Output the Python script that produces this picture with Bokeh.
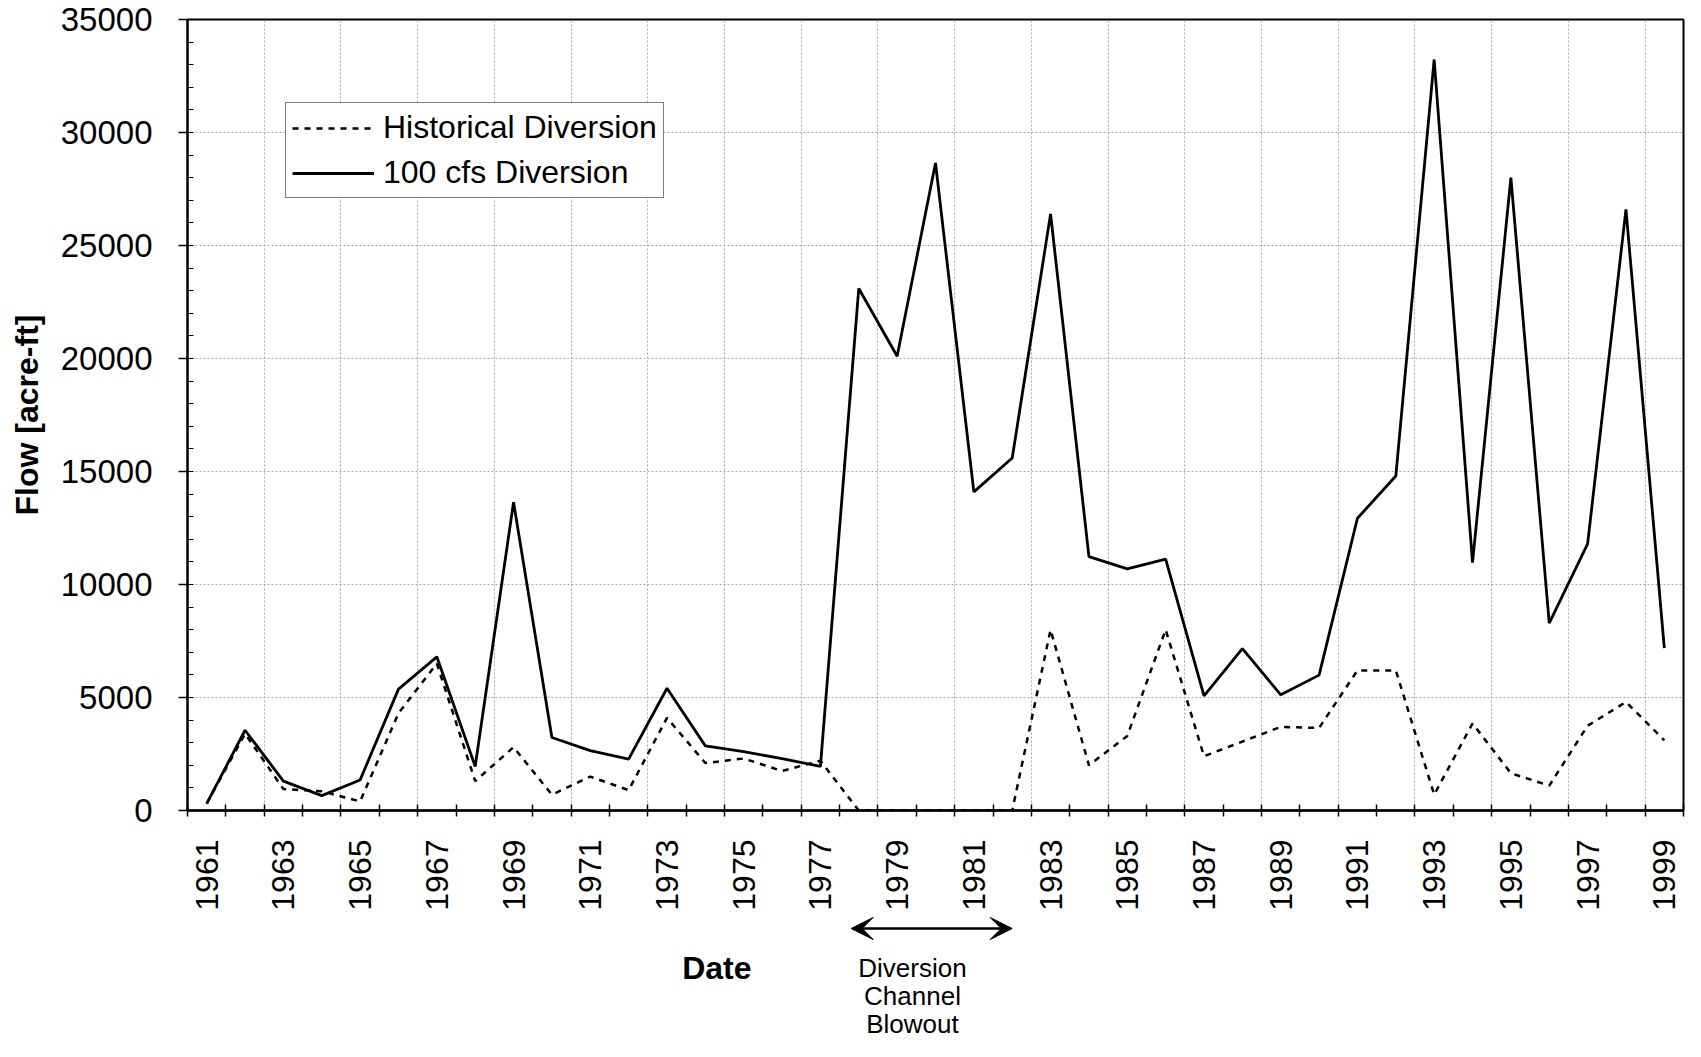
from bokeh.plotting import figure
from bokeh.layouts import column
from bokeh.models import (FixedTicker, Legend, LegendItem, Label,
                          Arrow, VeeHead, Range1d)
from bokeh.embed import file_html
from bokeh.resources import INLINE
from math import pi

# ---- data ----
years = list(range(1961, 2000))
historical = [300, 3400, 950, 850, 400, 4300, 6500, 1300, 2800, 700,
              1500, 900, 4100, 2100, 2300, 1750, 2200, 0, 0, 0,
              0, 0, 8000, 2000, 3300, 8000, 2400, 3050, 3700, 3650,
              6200, 6200, 700, 3850, 1650, 1100, 3750, 4800, 3100]
cfs100 = [300, 3550, 1300, 660, 1350, 5370, 6800, 1950, 13640, 3230,
          2650, 2270, 5410, 2860, 2600, 2300, 1950, 23100, 20100, 28650,
          14100, 15600, 26400, 11230, 10690, 11120, 5070, 7160, 5120, 5990,
          12930, 14800, 33230, 10970, 28000, 8290, 11800, 26600, 7180]
label_years = list(range(1961, 2000, 2))
label_texts = [str(y) for y in label_years]
y_ticks = [0, 5000, 10000, 15000, 20000, 25000, 30000, 35000]
y_labels = [str(v) for v in y_ticks]
series_names = ["Historical Diversion", "100 cfs Diversion"]
x_title = "Date"
blowout_lines = ["Diversion", "Channel", "Blowout"]
blowout_span = (1977.8, 1982.0)

FONT = "Liberation Sans"
W = 1685
H_MAIN = 913
H_NOTE = 128
FRAME_BOTTOM = 811

major_bounds = [y - 0.5 for y in label_years]                 # gridline boundaries
all_bounds = [y - 0.5 for y in years] + [years[-1] + 0.5]     # category boundaries

x_range = Range1d(years[0] - 0.5, years[-1] + 0.5)
p = figure(width=W, height=H_MAIN, x_range=x_range,
           y_range=Range1d(y_ticks[0], y_ticks[-1]),
           output_backend="svg", toolbar_location=None,
           min_border_left=187, min_border_right=2,
           min_border_top=19, min_border_bottom=H_MAIN - FRAME_BOTTOM)
p.background_fill_color = "white"
p.border_fill_color = "white"
p.outline_line_color = "black"
p.outline_line_width = 2

# x axis
xa = p.xaxis[0]
xa.ticker = FixedTicker(ticks=label_years, minor_ticks=all_bounds)
xa.major_label_overrides = dict(zip(label_years, label_texts))
xa.major_tick_out = 0
xa.major_tick_in = 0
xa.minor_tick_in = 6
xa.minor_tick_out = 6
xa.axis_line_width = 2.5
xa.minor_tick_line_width = 1.5
xa.axis_line_color = "black"
xa.minor_tick_line_color = "black"
xa.major_label_orientation = pi / 2
xa.major_label_standoff = 23
xa.major_label_text_font = FONT
xa.major_label_text_font_size = "32px"
xa.major_label_text_color = "black"

# y axis
ya = p.yaxis[0]
ya.ticker = FixedTicker(ticks=y_ticks, minor_ticks=list(range(0, 35001, 1000)))
ya.major_label_overrides = dict(zip(y_ticks, y_labels))
ya.major_tick_out = 9
ya.major_tick_in = 0
ya.minor_tick_in = 6
ya.minor_tick_out = 0
ya.major_label_standoff = 26
ya.major_label_text_font = FONT
ya.major_label_text_font_size = "33px"
ya.major_label_text_color = "black"
ya.axis_label = "Flow [acre-ft]"
ya.axis_label_text_font = FONT
ya.axis_label_text_font_size = "32px"
ya.axis_label_text_font_style = "bold"
ya.axis_label_text_color = "black"
ya.axis_label_standoff = 13
ya.axis_line_width = 2
ya.axis_line_color = "black"
ya.major_tick_line_color = "black"
ya.minor_tick_line_color = "black"
ya.major_tick_line_width = 1.5

# grids
p.xgrid.ticker = FixedTicker(ticks=major_bounds)
p.ygrid.ticker = FixedTicker(ticks=y_ticks)
for g in (p.xgrid, p.ygrid):
    g.grid_line_color = "#a8a8a8"
    g.grid_line_dash = "2 2"
    g.grid_line_width = 1

# lines
r_hist = p.line(years, historical, line_color="black", line_width=2.5,
                line_dash="6 6")
r_cfs = p.line(years, cfs100, line_color="black", line_width=2.8)

legend = Legend(items=[LegendItem(label=series_names[0], renderers=[r_hist]),
                       LegendItem(label=series_names[1], renderers=[r_cfs])],
                location=(98, 612), orientation="vertical")
legend.border_line_color = "black"
legend.border_line_width = 1
legend.background_fill_color = "white"
legend.background_fill_alpha = 1
legend.padding = 6
legend.spacing = 8
legend.margin = 0
legend.glyph_width = 82
legend.glyph_height = 36
legend.label_height = 36
legend.label_standoff = 9
legend.label_text_font = FONT
legend.label_text_font_size = "32px"
legend.label_text_color = "black"
legend.label_text_baseline = "middle"
p.add_layout(legend)

# ---- annotation strip below the chart ----
p2 = figure(width=W, height=H_NOTE, x_range=x_range, y_range=Range1d(0, H_NOTE),
            output_backend="svg", toolbar_location=None,
            x_axis_location=None, y_axis_location=None,
            min_border_left=187, min_border_right=2,
            min_border_top=0, min_border_bottom=0)
p2.outline_line_color = None
p2.background_fill_color = "white"
p2.border_fill_color = "white"
p2.xgrid.visible = False
p2.ygrid.visible = False

# y in this strip counts pixels up from its bottom edge
p2.add_layout(Arrow(x_start=blowout_span[0], x_end=blowout_span[1],
                    y_start=H_NOTE - 15, y_end=H_NOTE - 15,
                    line_color="black", line_width=2.5,
                    start=VeeHead(size=22, fill_color="black", line_color="black"),
                    end=VeeHead(size=22, fill_color="black", line_color="black")))
p2.add_layout(Label(x=1974.3, y=74, text=x_title, text_font=FONT,
                    text_font_size="32px", text_font_style="bold",
                    text_align="center", text_baseline="middle",
                    text_color="black"))
for i, txt in enumerate(blowout_lines):
    p2.add_layout(Label(x=1979.4, y=74 - 28 * i, text=txt, text_font=FONT,
                        text_font_size="26px", text_align="center",
                        text_baseline="middle", text_color="black"))

layout = column(p, p2, spacing=0)
open("out.html", "w").write(file_html(layout, INLINE))
